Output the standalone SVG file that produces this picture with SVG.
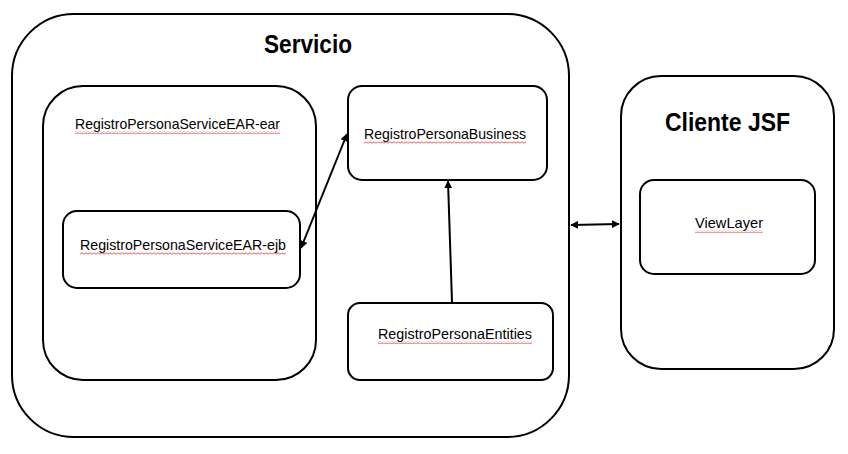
<svg xmlns="http://www.w3.org/2000/svg" width="848" height="454" viewBox="0 0 848 454">
<defs>
<style>
.box{fill:#fff;stroke:#000;stroke-width:2}
.lbl{font-family:"Liberation Sans","Open Sans",sans-serif;font-size:15px;fill:#000}
.ttl{font-family:"Liberation Sans","Open Sans",sans-serif;font-size:26px;font-weight:bold;fill:#000}
.con{stroke:#000;stroke-width:2;fill:none}
.sq{fill:url(#squig)}
</style>
<pattern id="squig" x="0" y="0" width="4" height="3" patternUnits="userSpaceOnUse">
<path d="M0,2.2 L2,0.8 L4,2.2" fill="none" stroke="#e03a3a" stroke-width="0.8"/>
</pattern>
<marker id="ah" viewBox="0 0 10 10" refX="9" refY="5" markerWidth="4" markerHeight="4" orient="auto-start-reverse" markerUnits="strokeWidth">
<path d="M0,0 L10,5 L0,10 z" fill="#000"/>
</marker>
</defs>
<rect width="848" height="454" fill="#fff"/>
<g id="servicio">
<rect class="box" x="12" y="14" width="557" height="423" rx="62" ry="62"/>
<text class="ttl" x="264" y="53" textLength="88" lengthAdjust="spacingAndGlyphs">Servicio</text>
</g>
<g id="ear">
<rect class="box" x="43" y="86" width="273" height="294" rx="40" ry="40"/>
<text class="lbl" x="75" y="129" textLength="205" lengthAdjust="spacingAndGlyphs">RegistroPersonaServiceEAR-ear</text>
<rect class="sq" x="75" y="131" width="205" height="3"/>
</g>
<g id="ejb">
<rect class="box" x="63" y="211" width="237" height="77" rx="14" ry="14"/>
<text class="lbl" x="80" y="250" textLength="206" lengthAdjust="spacingAndGlyphs">RegistroPersonaServiceEAR-ejb</text>
<rect class="sq" x="80" y="252" width="206" height="3"/>
</g>
<g id="business">
<rect class="box" x="348" y="86" width="199" height="94" rx="14" ry="14"/>
<text class="lbl" x="364" y="139" textLength="162" lengthAdjust="spacingAndGlyphs">RegistroPersonaBusiness</text>
<rect class="sq" x="364" y="141" width="162" height="3"/>
</g>
<g id="entities">
<rect class="box" x="348" y="303" width="205" height="77" rx="12" ry="12"/>
<text class="lbl" x="378" y="339" textLength="154" lengthAdjust="spacingAndGlyphs">RegistroPersonaEntities</text>
<rect class="sq" x="378" y="341" width="154" height="3"/>
</g>
<g id="cliente">
<rect class="box" x="621" y="76" width="213" height="293" rx="40" ry="40"/>
<text class="ttl" x="665" y="131" textLength="125" lengthAdjust="spacingAndGlyphs">Cliente JSF</text>
</g>
<g id="viewlayer">
<rect class="box" x="640" y="180" width="175" height="94" rx="14" ry="14"/>
<text class="lbl" x="695" y="228" textLength="68" lengthAdjust="spacingAndGlyphs">ViewLayer</text>
<rect class="sq" x="695" y="230" width="68" height="3"/>
</g>
<g id="connectors">
<line class="con" x1="301" y1="248" x2="347" y2="134" marker-start="url(#ah)" marker-end="url(#ah)"/>
<line class="con" x1="452" y1="302" x2="448" y2="181" marker-end="url(#ah)"/>
<line class="con" x1="571" y1="225" x2="619" y2="224" stroke-width="3" marker-start="url(#ah)" marker-end="url(#ah)"/>
</g>
</svg>
